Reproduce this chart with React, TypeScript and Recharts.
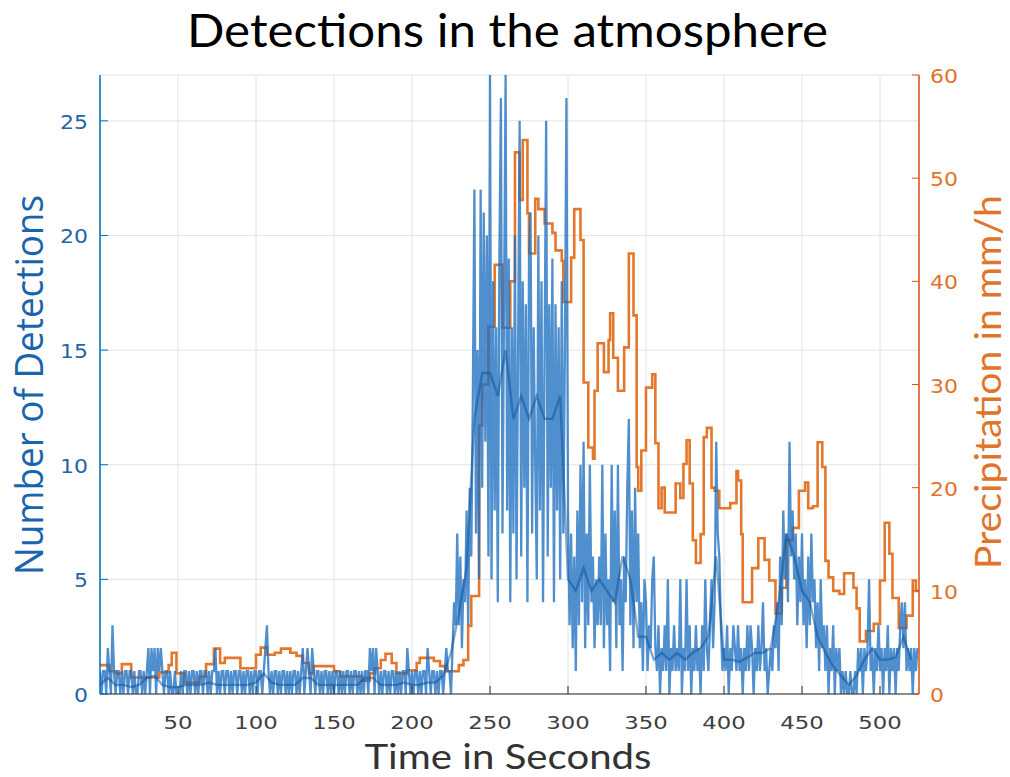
import React from 'react';
import { ComposedChart, Line, XAxis, YAxis, CartesianGrid } from 'recharts';

// Detections per second (t = index, seconds)
const detectionCounts = [
  1,0,1,1,0,2,1,0,3,1, 0,1,1,0,1,0,1,1,0,1, 1,0,1,0,0,1,1,0,1,0, 1,2,0,2,1,2,0,2,1,2,
  1,0,1,1,0,1,0,0,1,0, 0,0,1,0,1,1,0,1,0,1, 1,0,1,0,1,1,0,1,1,0, 1,0,1,1,2,0,1,0,1,1,
  0,1,1,0,1,0,1,1,0,1, 1,0,1,0,1,1,0,1,0,1, 1,0,1,1,0,1,2,3,1,0, 1,0,1,1,0,1,0,1,1,0,
  1,0,1,0,1,1,0,1,0,1, 2,0,1,2,1,0,2,1,0,1, 1,0,1,0,1,1,0,1,0,1, 0,1,1,0,1,0,1,0,1,1,
  0,1,0,1,1,0,1,0,1,0, 1,1,0,2,1,2,0,2,1,0, 1,0,1,1,0,1,0,1,1,0, 1,0,1,0,1,1,0,2,1,0,
  1,0,1,1,0,1,0,1,1,0, 2,1,0,1,1,0,1,0,1,1, 0,1,2,1,1,0,2,4,3,7, 3,6,2,5,4,8,3,9,6,13,
  22,7,15,5,22,9,21,11,20,6, 27,5,18,8,16,4,19,26,7,17, 27,8,19,4,16,7,20,5,15,25,
  6,18,9,17,4,19,21,7,16,10, 5,20,8,18,4,15,25,6,17,9, 19,4,17,8,16,5,18,7,15,26,
  8,3,7,2,6,1,8,3,10,4, 11,2,7,3,10,4,6,2,5,3, 6,3,10,2,7,3,5,1,10,4, 8,2,10,3,5,1,6,4,9,12,
  3,8,2,9,4,7,2,4,1,5, 4,1,3,2,5,6,2,1,3,0, 2,1,3,1,5,0,2,1,3,1, 2,1,5,0,2,1,5,1,3,0,
  2,1,3,1,2,0,3,1,5,2, 1,3,5,2,4,11,7,6,3,1, 2,1,3,0,2,1,3,2,1,3, 1,2,0,2,1,3,1,3,2,0,
  2,1,3,1,2,4,1,2,0,1, 2,1,3,2,4,1,6,3,8,5, 7,4,11,6,8,5,7,3,6,4, 7,3,5,2,6,3,7,4,5,2,
  4,1,5,2,3,1,3,0,2,1, 3,0,2,1,2,0,1,0,1,0, 0,1,0,0,1,0,2,1,2,0, 2,1,2,5,1,2,0,2,1,3,
  1,2,0,2,1,3,0,2,1,2, 0,2,1,3,4,2,4,1,2,1, 2,0,2,1,2,
];

// Smoothed detections, one value every 5 s
const smoothedDetections = [
  0.4,0.7,0.4,0.4,0.3,0.4,0.7,0.8,0.4,0.3,
  0.3,0.4,0.4,0.4,0.5,0.4,0.4,0.4,0.4,0.4,
  0.5,0.9,0.5,0.4,0.4,0.4,0.7,0.7,0.4,0.4,
  0.4,0.4,0.4,0.4,0.7,0.7,0.4,0.4,0.4,0.5,
  0.4,0.4,0.5,0.5,0.8,1.8,3.5,5.5,12,14,
  14,13,15,12,13,12,13,12,12,13,
  5,4.5,5.5,4.5,5,4.5,4,6,5,2.5,
  2.5,1.5,1.8,1.5,1.8,1.5,1.8,2,2.5,6,
  1.5,1.5,1.4,1.6,1.8,1.8,2,4,7,6,
  4.5,4,2.5,1.8,1.2,0.8,0.4,0.8,1.5,2,
  1.5,1.5,1.6,2.5,1.5,
];
const smoothStep = 5;

// Precipitation (mm/h), step changes at these times
const precipTimes = [
  0,6,10,14,20,38,44,46,49,54,64,68,73,77,80,90,100,103,107,112,116,122,126,130,134,137,
  150,154,168,173,176,180,183,187,190,197,203,205,214,218,222,230,233,236,238,243,245,249,
  253,258,263,266,269,271,274,275,279,281,285,290,292,296,297,302,304,308,310,313,316,317,
  319,323,326,327,329,332,336,339,342,344,345,347,350,354,356,358,360,362,369,372,374,376,
  378,380,382,385,387,389,392,394,397,404,408,409,411,412,418,422,426,429,433,437,440,444,
  448,452,454,457,460,463,465,467,470,474,477,483,485,487,491,496,500,503,506,508,512,517,
  521,523,525,
];
const precipValues = [
  2.8,2.2,2.0,2.9,1.6,2.1,2.8,4.0,2.0,1.1,1.7,2.9,4.4,3.0,3.5,2.5,3.8,4.5,3.8,4.0,4.4,4.0,3.7,3.0,2.0,2.7,
  2.2,1.7,1.3,2.0,2.5,3.3,3.9,3.0,2.0,2.3,3.0,3.5,3.2,2.7,2.2,2.8,3.3,6.6,9.5,26,30,35.6,
  41.6,35.5,40,52.5,47.9,53.7,46.6,42.7,48,47,45.6,44.7,43,42,38,42.3,47,44,30.2,23.9,22.8,29.4,
  34,31.2,34.3,36.9,32.6,29.4,33.6,42.7,36.7,22,19.7,23.6,29.7,31,24.3,18,20,17.6,20.4,19,22.3,24.6,
  20.4,14.9,12.7,15.5,24.9,25.8,20,19.7,18,18.5,21.6,20.7,15.5,8.9,12.2,15.1,13,11,7.8,10.3,14.9,16.1,
  19.7,20.5,18,18.2,24.4,22,12.9,11.3,10,9.7,11.7,10.3,8.3,5.1,6.1,6.8,11,16.6,13.6,9.3,6.4,7.6,
  11,10,10,
];

const xTicks = [50, 100, 150, 200, 250, 300, 350, 400, 450, 500];
const leftTicks = [0, 5, 10, 15, 20, 25];
const rightTicks = [0, 10, 20, 30, 40, 50, 60];

const detData = detectionCounts.map((d, i) => ({ t: i, d }));
const smoothData = smoothedDetections.map((s, i) => ({ t: i * smoothStep, s }));
const precipData = precipTimes.map((t, i) => ({ t, p: precipValues[i] }));

const BLUE = '#0072BD';
const ORANGE = '#D95319';

const XTick = (props: any) => {
  const { x, y, payload } = props;
  const label = String(payload.value);
  return (
    <g>
      <line x1={x} x2={x} y1={y} y2={y - 8} stroke="#262626" strokeWidth={1} />
      <text x={x} y={y + 35} textAnchor="middle" fontFamily="DejaVu Sans" fontSize={18} fill="#404040"
        textLength={label.length * 14.5} lengthAdjust="spacingAndGlyphs">{label}</text>
    </g>
  );
};

const TopTick = (props: any) => {
  const { x, y } = props;
  return <line x1={x} x2={x} y1={y} y2={y + 8} stroke="#262626" strokeWidth={1} />;
};

const LeftTick = (props: any) => {
  const { x, y, payload } = props;
  const label = String(payload.value);
  return (
    <g>
      <line x1={x} x2={x + 8} y1={y} y2={y} stroke={BLUE} strokeWidth={1} />
      <text x={x - 12} y={y + 8} textAnchor="end" fontFamily="DejaVu Sans" fontSize={19} fill="#2464a8"
        textLength={label.length * 14} lengthAdjust="spacingAndGlyphs">{label}</text>
    </g>
  );
};

const RightTick = (props: any) => {
  const { x, y, payload } = props;
  const label = String(payload.value);
  return (
    <g>
      <line x1={x} x2={x - 7} y1={y} y2={y} stroke={ORANGE} strokeWidth={1} />
      <text x={x + 11} y={y + 8} textAnchor="start" fontFamily="DejaVu Sans" fontSize={19} fill="#e0742a"
        textLength={label.length * 14} lengthAdjust="spacingAndGlyphs">{label}</text>
    </g>
  );
};

export default function App() {
  return (
    <div style={{ position: 'absolute', left: 0, top: 0, width: 1010, height: 777, background: '#fff' }}>
      <ComposedChart width={1010} height={777} margin={{ top: 75, right: 0, bottom: 0, left: 0 }}>
        <CartesianGrid xAxisId="bottom" yAxisId="left" stroke="#e2e2e2" strokeWidth={1} />
        <XAxis xAxisId="bottom" dataKey="t" type="number" domain={[0, 525]} ticks={xTicks}
          allowDataOverflow height={83} tickSize={0} tickMargin={0} tickLine={false}
          axisLine={{ stroke: '#262626', strokeWidth: 1 }} tick={XTick} interval={0} />
        <XAxis xAxisId="top" orientation="top" dataKey="t" type="number" domain={[0, 525]} ticks={xTicks}
          allowDataOverflow height={0} tickSize={0} tickMargin={0} tickLine={false}
          axisLine={{ stroke: '#262626', strokeWidth: 1.2 }} tick={TopTick} interval={0} />
        <YAxis yAxisId="left" orientation="left" type="number" domain={[0, 27]} ticks={leftTicks}
          allowDataOverflow width={100} tickSize={0} tickMargin={0} tickLine={false}
          axisLine={{ stroke: BLUE, strokeWidth: 1.5 }} tick={LeftTick} interval={0} />
        <YAxis yAxisId="right" orientation="right" type="number" domain={[0, 60]} ticks={rightTicks}
          allowDataOverflow width={91} tickSize={0} tickMargin={0} tickLine={false}
          axisLine={{ stroke: ORANGE, strokeWidth: 1.5 }} tick={RightTick} interval={0} />
        <Line data={precipData} dataKey="p" xAxisId="bottom" yAxisId="right" type="stepAfter"
          stroke="#e3772c" strokeWidth={2.6} dot={false} isAnimationActive={false} />
        <Line data={detData} dataKey="d" xAxisId="bottom" yAxisId="left" type="linear"
          stroke="#1f6fc0" strokeOpacity={0.78} strokeWidth={2.3} dot={false} isAnimationActive={false} />
        <Line data={smoothData} dataKey="s" xAxisId="bottom" yAxisId="left" type="linear"
          stroke="#0a4f98" strokeOpacity={0.5} strokeWidth={2.4} dot={false} isAnimationActive={false} />
      </ComposedChart>
      <svg width={1010} height={777} style={{ position: 'absolute', left: 0, top: 0, pointerEvents: 'none' }}>
        <text x={507.5} y={47} textAnchor="middle" fontFamily="Lato" fontSize={46} fill="#000"
          textLength={641} lengthAdjust="spacingAndGlyphs">Detections in the atmosphere</text>
        <text x={508} y={769} textAnchor="middle" fontFamily="Lato" fontSize={34} fill="#333"
          textLength={287} lengthAdjust="spacingAndGlyphs">Time in Seconds</text>
        <text x={43} y={385} textAnchor="middle" fontFamily="Open Sans" fontSize={38} fill="#1a64ae"
          transform="rotate(-90 43 385)" textLength={380} lengthAdjust="spacingAndGlyphs">Number of Detections</text>
        <text x={1001} y={382} textAnchor="middle" fontFamily="Lato" fontSize={37} fill="#e0742a"
          transform="rotate(-90 1001 382)" textLength={374} lengthAdjust="spacingAndGlyphs">Precipitation in mm/h</text>
      </svg>
    </div>
  );
}
